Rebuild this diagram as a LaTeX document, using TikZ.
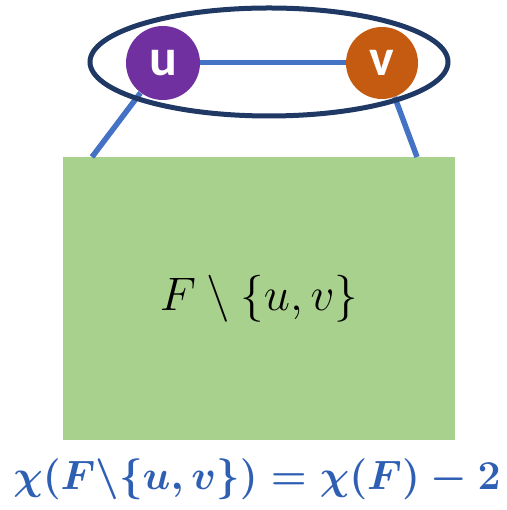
\RequirePackage{fix-cm}
\documentclass[tikz,border=0pt]{standalone}
\usepackage{amsmath}
\usepackage{xcolor}
\usepackage{fontspec}
\usepackage{tikz}
\usetikzlibrary{shapes.geometric, positioning}
\newfontfamily\labelfont{Carlito}
\definecolor{blockgreen}{HTML}{A9D18E}
\definecolor{ringblue}{HTML}{203864}
\definecolor{edgeblue}{HTML}{4472C4}
\definecolor{upurple}{HTML}{7030A0}
\definecolor{vorange}{HTML}{C55A11}
\definecolor{formulablue}{HTML}{2F5FB3}
\tikzset{
  vertex/.style={circle, inner sep=0pt, text=white, font=\labelfont\bfseries\fontsize{52}{52}\selectfont},
  edge/.style={draw=edgeblue, line width=5pt}
}

\begin{document}
\begin{tikzpicture}[x=1pt, y=1pt, thick]
    \useasboundingbox (0,0) rectangle (506,510);
    % Green block: the rest of F
    \node[rectangle, fill=blockgreen, minimum width=392pt, minimum height=283pt, inner sep=0pt,
          font=\fontsize{47}{47}\selectfont] (F) at (259,211.5) {$F \setminus \{u, v\}$};
    \coordinate (Fleft) at (92,353);
    \coordinate (Fright) at (417,353);

    % The pair u, v
    \node[vertex, fill=upurple, minimum size=74pt] (u) at (163,447) {u};
    \node[vertex, fill=vorange, minimum size=72pt] (v) at (382,447) {v};

    \draw[edge] (u) -- (v);
    \draw[edge, line width=5.5pt] (u) -- (Fleft);
    \draw[edge, line width=5.5pt] (v) -- (Fright);

    \node[ellipse, draw=ringblue, line width=5pt, minimum width=358pt, minimum height=108pt] (pair) at (269,448) {};

    % Euler characteristic
    \node[text=formulablue, font=\fontsize{41}{41}\selectfont] (chi) at (257,31)
        {$\boldsymbol{\chi(F\backslash\{u,v\}) = \chi(F) - 2}$};
\end{tikzpicture}
\end{document}
